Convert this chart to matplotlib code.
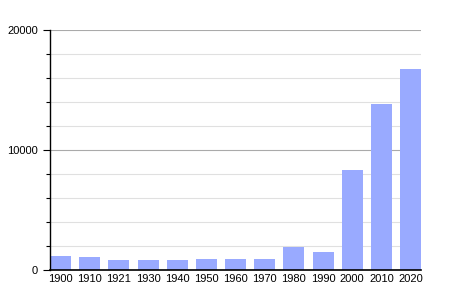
import matplotlib
matplotlib.use('Agg')
import matplotlib.pyplot as plt
from matplotlib.ticker import MultipleLocator

plt.rcParams['font.family'] = ['Liberation Sans', 'DejaVu Sans']

# population by census year
years = ['1900', '1910', '1921', '1930', '1940', '1950', '1960',
         '1970', '1980', '1990', '2000', '2010', '2020']
population = [1170, 1080, 830, 830, 830, 920, 920,
              920, 1920, 1500, 8330, 13830, 16750]

fig = plt.figure(figsize=(4.5, 3), dpi=100)
ax = fig.add_axes([50 / 450, 30 / 300, 371 / 450, 240 / 300])

x = range(len(years))
ax.bar(x, population, width=0.72, color='#99aaff', zorder=2)

ax.set_xlim(-0.36, len(years) - 1 + 0.36)
ax.set_ylim(0, 20000)
ax.set_xticks(list(x))
ax.set_xticklabels(years, fontsize=8)
ax.yaxis.set_major_locator(MultipleLocator(10000))
ax.yaxis.set_minor_locator(MultipleLocator(2000))
ax.tick_params(axis='y', which='major', labelsize=8, length=5, width=0.8)
ax.tick_params(axis='y', which='minor', length=3, width=0.8)
ax.tick_params(axis='x', length=0, pad=3)

ax.grid(axis='y', which='minor', color='#e0e0e0', linewidth=0.8, zorder=0)
ax.grid(axis='y', which='major', color='#aaaaaa', linewidth=0.8, zorder=0)
ax.set_axisbelow(True)

for s in ['top', 'right']:
    ax.spines[s].set_visible(False)
ax.spines['left'].set_linewidth(1)
ax.spines['bottom'].set_linewidth(1.2)

fig.savefig('out.png', dpi=100)
